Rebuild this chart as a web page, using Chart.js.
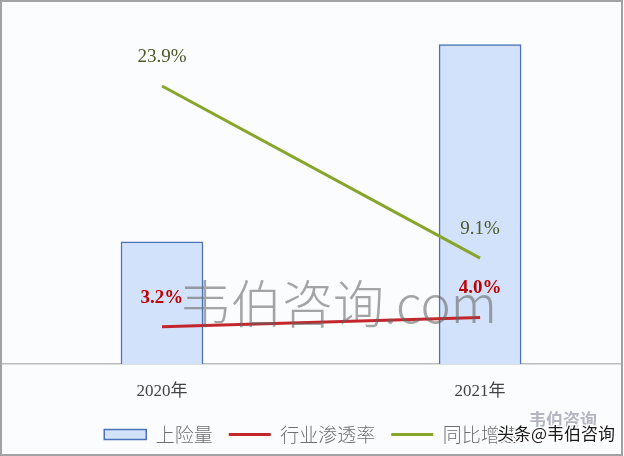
<!DOCTYPE html>
<html>
<head>
<meta charset="utf-8">
<script src="https://cdn.jsdelivr.net/npm/chart.js@4.4.0/dist/chart.umd.min.js"></script>
<style>
  html, body { margin: 0; padding: 0; background: #ffffff; }
  #wrap { width: 624px; height: 456px; }
</style>
</head>
<body>
<div id="wrap"><canvas id="grafico" width="624" height="456"></canvas></div>
<script>
// datos
const anios = ["2020年", "2021年"];
const seriesNombres = ["上险量", "行业渗透率", "同比增速"];
const shangXian = [70, 183];
const penetracion = [3.2, 4.0];
const crecimiento = [23.9, 9.1];

function puntos(valores) {
  return valores.map((v, i) => ({ x: i, y: v }));
}

// marco, marcas de agua
const decoracion = {
  id: "decoracion",
  beforeDraw(chart) {
    const ctx = chart.ctx;
    ctx.save();
    ctx.fillStyle = "#fbfcfe";
    ctx.fillRect(0, 0, chart.width, chart.height);
    ctx.restore();
  },
  afterDraw(chart) {
    const ctx = chart.ctx;
    ctx.save();
    // marca central
    ctx.font = '300 51px "Noto Sans CJK SC"';
    ctx.fillStyle = "rgba(100, 100, 100, 0.58)";
    ctx.textBaseline = "middle";
    ctx.textAlign = "left";
    ctx.fillText("韦伯咨询.com", 180, 304);

    // logo esquina
    ctx.font = 'bold 17px "Noto Sans CJK SC"';
    ctx.fillStyle = "rgba(90, 95, 120, 0.45)";
    ctx.fillText("韦伯咨询", 529, 420);

    ctx.font = '17px "Noto Sans CJK SC"';
    ctx.lineWidth = 3;
    ctx.strokeStyle = "#ffffff";
    ctx.strokeText("头条@韦伯咨询", 497, 434);
    ctx.fillStyle = "#1a1a1a";
    ctx.fillText("头条@韦伯咨询", 497, 434);

    // marco gris
    ctx.strokeStyle = "#a2a2a2";
    ctx.lineWidth = 2;
    ctx.strokeRect(1, 1, chart.width - 3, chart.height - 2);
    ctx.restore();
  },
};

// etiquetas de porcentaje sobre las lineas
const etiquetas = {
  id: "etiquetas",
  afterDatasetsDraw(chart) {
    const ctx = chart.ctx;
    ctx.save();
    ctx.textAlign = "center";
    ctx.textBaseline = "middle";
    chart.data.datasets.forEach((ds, idx) => {
      if (ds.type !== "line") return;
      const meta = chart.getDatasetMeta(idx);
      meta.data.forEach((p, i) => {
        ctx.font = ds.etiquetaFuente;
        ctx.fillStyle = ds.etiquetaColor;
        ctx.fillText(ds.data[i].y.toFixed(1) + "%", p.x, p.y - 29);
      });
    });
    ctx.restore();
  },
};

const ctx = document.getElementById("grafico").getContext("2d");
new Chart(ctx, {
  type: "bar",
  data: {
    datasets: [
      {
        type: "bar",
        label: seriesNombres[0],
        data: puntos(shangXian),
        yAxisID: "y",
        backgroundColor: "#d2e2fa",
        borderColor: "#4b72b6",
        borderWidth: 1.5,
        barThickness: 82,
        pointStyle: "rect",
        order: 2,
      },
      {
        type: "line",
        label: seriesNombres[1],
        data: puntos(penetracion),
        yAxisID: "y1",
        borderColor: "#c3262b",
        backgroundColor: "#c3262b",
        borderWidth: 3,
        pointRadius: 0,
        pointStyle: "line",
        etiquetaColor: "#c00000",
        etiquetaFuente: 'bold 19px "Liberation Serif"',
        order: 1,
      },
      {
        type: "line",
        label: seriesNombres[2],
        data: puntos(crecimiento),
        yAxisID: "y1",
        borderColor: "#86a52a",
        backgroundColor: "#86a52a",
        borderWidth: 3,
        pointRadius: 0,
        pointStyle: "line",
        etiquetaColor: "#4a5a26",
        etiquetaFuente: '19px "Liberation Serif"',
        order: 0,
      },
    ],
  },
  options: {
    responsive: false,
    animation: false,
    layout: { padding: { top: 15, left: 2, right: 3, bottom: 2 } },
    scales: {
      x: {
        type: "linear",
        min: -0.503,
        max: 1.443,
        offset: false,
        grid: { display: false, drawTicks: false },
        border: { display: true, color: "#bdbdbd", width: 1.5 },
        afterBuildTicks: (scale) => {
          scale.ticks = anios.map((_, i) => ({ value: i }));
        },
        afterFit: (scale) => {
          scale.height = 45;
        },
        ticks: {
          padding: 17,
          color: "#444",
          font: { family: '"Liberation Serif", "Noto Sans CJK SC"', size: 17 },
          callback: (v) => anios[v],
        },
      },
      y: { display: false, min: 0, max: 200 },
      y1: { display: false, min: 0, max: 30, position: "right" },
    },
    plugins: {
      legend: {
        position: "bottom",
        labels: {
          usePointStyle: true,
          pointStyleWidth: 42,
          boxHeight: 10,
          padding: 16,
          color: "#6f6f6f",
          font: { family: '"Noto Sans CJK SC"', size: 19, weight: "300" },
          sort: (a, b) => a.datasetIndex - b.datasetIndex,
        },
      },
      tooltip: { enabled: false },
    },
  },
  plugins: [decoracion, etiquetas],
});
</script>
</body>
</html>
